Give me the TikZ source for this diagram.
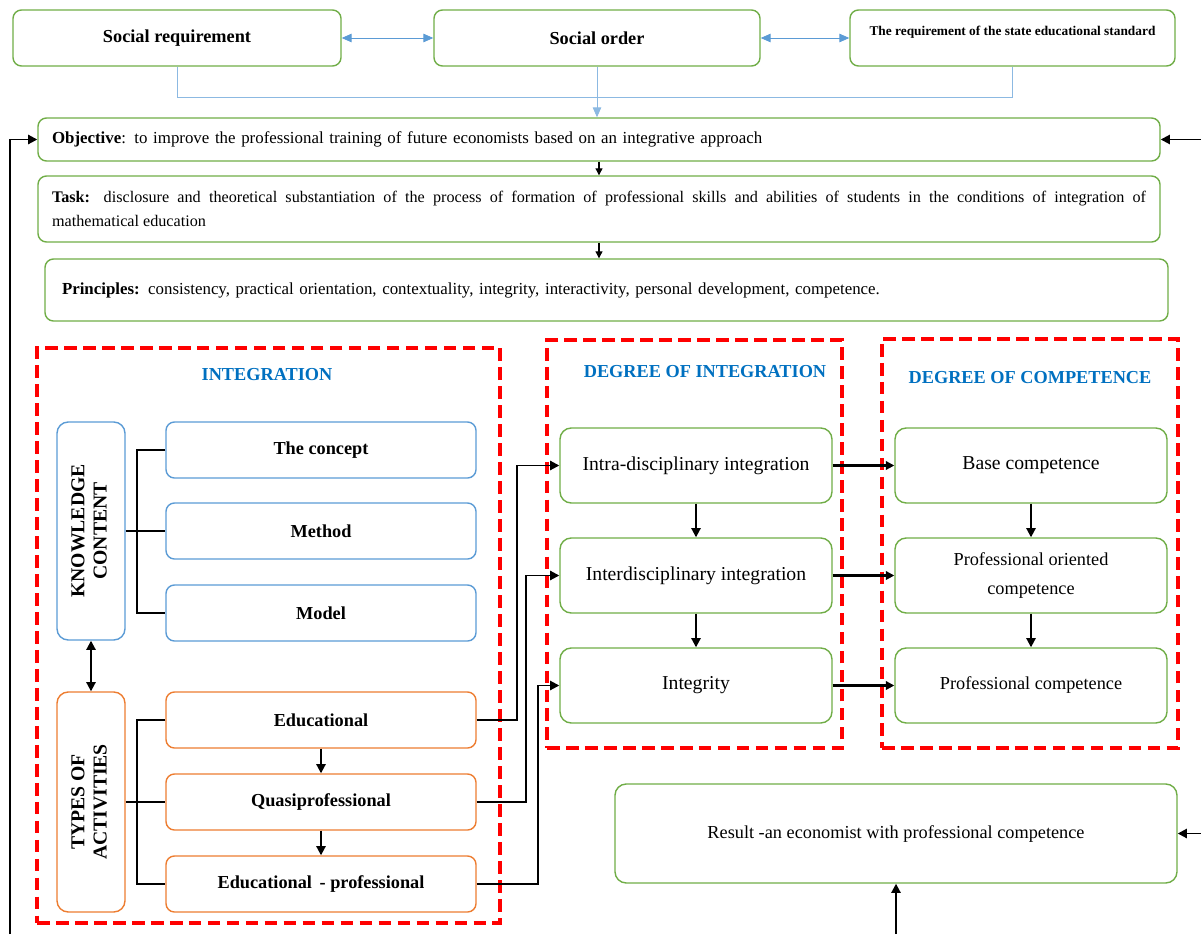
\documentclass[tikz,border=0pt]{standalone}
\usepackage{fontspec}
\setmainfont{Liberation Serif}
\usetikzlibrary{arrows.meta,positioning,calc}
\definecolor{boxgreen}{HTML}{70AD47}
\definecolor{boxblue}{HTML}{5B9BD5}
\definecolor{boxorange}{HTML}{ED7D31}
\definecolor{titleblue}{HTML}{0070C0}
\tikzset{
  topbox/.style   ={draw=boxgreen,line width=1pt,rounded corners=6pt,minimum width=8.15cm,minimum height=1.4cm,font=\fontsize{13}{15}\selectfont\bfseries},
  wide/.style     ={draw=boxgreen,line width=1pt,rounded corners=6pt,minimum width=28.05cm,text width=27.35cm,inner xsep=0.35cm,align=justify,font=\fontsize{12}{17}\selectfont},
  zone/.style     ={draw=red,line width=3pt,dash pattern=on 9pt off 4.5pt,inner sep=0pt},
  zonetitle/.style={text=titleblue,font=\fontsize{13}{15}\selectfont\bfseries},
  side/.style     ={line width=1pt,rounded corners=8pt,minimum width=1.7cm,inner sep=0pt,font=\fontsize{14}{16}\selectfont\bfseries},
  kbox/.style     ={draw=boxblue,line width=1pt,rounded corners=6pt,minimum width=7.75cm,minimum height=1.4cm,font=\fontsize{13}{15}\selectfont\bfseries},
  abox/.style     ={kbox,draw=boxorange},
  lvl/.style      ={draw=boxgreen,line width=1pt,rounded corners=8pt,minimum width=6.8cm,minimum height=1.875cm,align=center,font=\fontsize{14}{20}\selectfont},
  bluearr/.style  ={draw=boxblue,line width=0.6pt,{Triangle[length=7pt,width=6pt]}-{Triangle[length=7pt,width=6pt]}},
  blueline/.style ={draw=boxblue!70,line width=0.6pt},
  link/.style     ={black,line width=1.4pt},
  arr/.style      ={link,-{Triangle[length=6.5pt,width=6.5pt]}},
  dblarr/.style   ={link,{Triangle[length=6.5pt,width=6.5pt]}-{Triangle[length=6.5pt,width=6.5pt]}},
  smallarr/.style ={black,line width=0.8pt,-{Triangle[length=5pt,width=5pt]}},
  bigarr/.style   ={black,line width=2.1pt,-{Triangle[length=6pt,width=6pt]}},
}
\begin{document}
\begin{tikzpicture}
  \useasboundingbox (0,0) rectangle (30.025,-23.35);
  \node[topbox,minimum width=8.2cm] (sreq) at (4.425,-0.95) {Social requirement};
  \node[topbox] (sord) at (14.925,-0.95) {Social order};
  \node[topbox,minimum width=8.125cm,text depth=0.37cm,font=\fontsize{9.5}{11}\selectfont\bfseries] (sstd) at (25.3125,-0.95) {The requirement of the state educational standard};
  \node[wide,minimum height=1.075cm,align=left] (obj) at (14.975,-3.4875) {\textbf{Objective}: to improve the professional training of future economists based on an integrative approach};
  \node[wide,minimum height=1.65cm,font=\fontsize{11.5}{17}\selectfont] (task) at (14.975,-5.225) {\textbf{Task:} disclosure and theoretical substantiation of the process of formation of professional skills and abilities of students in the conditions of integration of\linebreak mathematical education};
  \node[wide,minimum width=28.075cm,text width=27.225cm,inner xsep=0.425cm,minimum height=1.55cm,align=left] (prin) at (15.1625,-7.25) {\textbf{Principles:} consistency, practical orientation, contextuality, integrity, interactivity, personal development, competence.};

  \node[zone,minimum width=11.575cm,minimum height=14.375cm] (zint) at (6.7125,-15.8875) {};
  \node[zone,minimum width=7.375cm,minimum height=10.2cm] (zdeg) at (17.3625,-13.6) {};
  \node[zone,minimum width=7.4cm,minimum height=10.225cm] (zcomp) at (25.75,-13.5875) {};
  \node[zonetitle] (tint) at (6.675,-9.375) {INTEGRATION};
  \node[zonetitle] (tdeg) at (17.625,-9.3) {DEGREE OF INTEGRATION};
  \node[zonetitle] (tcomp) at (25.75,-9.45) {DEGREE OF COMPETENCE};

  \node[side,draw=boxblue,minimum height=5.45cm] (kc) at (2.275,-13.275) {\rotatebox{90}{\begin{tabular}{@{}c@{}}KNOWLEDGE\\CONTENT\end{tabular}}};
  \node[kbox] (concept) at (8.025,-11.25) {The concept};
  \node[kbox] (method) at (8.025,-13.275) {Method};
  \node[kbox] (model) at (8.025,-15.325) {Model};
  \node[side,draw=boxorange,minimum height=5.5cm] (ta) at (2.275,-20.05) {\rotatebox{90}{\begin{tabular}{@{}c@{}}TYPES OF\\ACTIVITIES\end{tabular}}};
  \node[abox] (edu) at (8.025,-18.0) {Educational};
  \node[abox] (quasi) at (8.025,-20.05) {Quasiprofessional};
  \node[abox] (eduprof) at (8.025,-22.1) {Educational\, - professional};

  \node[lvl] (intra) at (17.4,-11.6375) {Intra-disciplinary integration};
  \node[lvl] (inter) at (17.4,-14.3875) {Interdisciplinary integration};
  \node[lvl] (integ) at (17.4,-17.1375) {Integrity};
  \node[lvl] (base) at (25.775,-11.6375) {Base competence};
  \node[lvl,font=\fontsize{13}{20}\selectfont] (profor) at (25.775,-14.3875) {Professional oriented\\competence};
  \node[lvl,font=\fontsize{13}{20}\selectfont] (profc) at (25.775,-17.1375) {Professional competence};
  \node[lvl,minimum width=14.05cm,minimum height=2.475cm,font=\fontsize{13}{15}\selectfont] (res) at (22.4,-20.8375) {Result -an economist with professional competence};

  \coordinate (fbl) at (0.25,-23.35);
  \coordinate (fbo) at (30.025,-3.4875);
  \coordinate (fbr) at (30.025,-20.8375);
  \coordinate (fbb) at (22.4,-23.35);

  \draw[bluearr] (sreq) -- (sord);
  \draw[bluearr] (sord) -- (sstd);
  \draw[blueline] (sreq.south) -- ++(0,-0.775) -| (sstd.south);
  \draw[blueline,-{Triangle[length=7pt,width=6pt]}] (sord.south) -- (sord.south |- obj.north);
  \draw[smallarr] (obj) -- (task);
  \draw[smallarr] (task.south) -- (task.south |- prin.north);

  \draw[link] (concept.west) -- ++(-0.7,0) |- (model.west);
  \draw[link] (kc.east) -- (method.west);
  \draw[link] (edu.west) -- ++(-0.7,0) |- (eduprof.west);
  \draw[link] (ta.east) -- (quasi.west);
  \draw[dblarr] (kc) -- (ta);
  \draw[arr] (edu) -- (quasi);
  \draw[arr] (quasi) -- (eduprof);

  \draw[arr] (edu.east) -- ++(1.0,0) |- (intra.west);
  \draw[arr] (quasi.east) -- ++(1.225,0) |- (inter.west);
  \draw[arr] (eduprof.east) -- ++(1.525,0) |- (integ.west);
  \draw[arr] (intra) -- (inter);
  \draw[arr] (inter) -- (integ);
  \draw[bigarr] (intra) -- (base);
  \draw[bigarr] (inter) -- (profor);
  \draw[bigarr] (integ) -- (profc);
  \draw[arr] (base) -- (profor);
  \draw[arr] (profor) -- (profc);

  \draw[arr] (fbl) |- (obj.west);
  \draw[arr] (fbo) -- (obj.east);
  \draw[arr] (fbr) -- (res.east);
  \draw[arr] (fbb) -- (res.south);
\end{tikzpicture}
\end{document}
